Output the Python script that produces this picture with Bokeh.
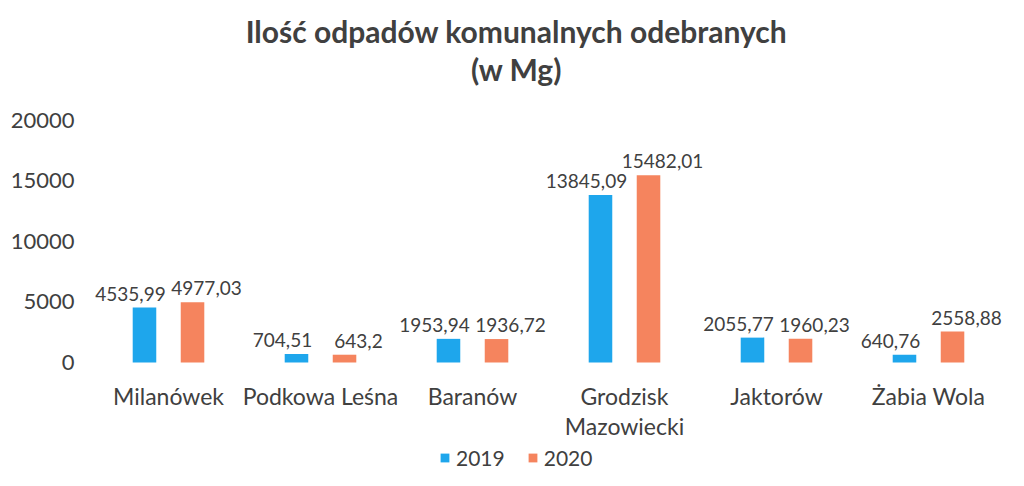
from bokeh.plotting import figure
from bokeh.models import ColumnDataSource, FactorRange, Range1d, Legend, LegendItem, LabelSet, Label
from bokeh.core.properties import value
from bokeh.transform import dodge
from bokeh.embed import file_html
from bokeh.resources import INLINE

municipalities = ["Milanówek", "Podkowa Leśna", "Baranów", "Grodzisk\nMazowiecki", "Jaktorów", "Żabia Wola"]
values_2019 = [4535.99, 704.51, 1953.94, 13845.09, 2055.77, 640.76]
values_2020 = [4977.03, 643.2, 1936.72, 15482.01, 1960.23, 2558.88]
series_names = ["2019", "2020"]
y_ticks = [0, 5000, 10000, 15000, 20000]
title_lines = ["Ilość odpadów komunalnych odebranych", "(w Mg)"]


def pl(v):
    return f"{v:.2f}".rstrip("0").rstrip(".").replace(".", ",")


src = ColumnDataSource(dict(
    cat=municipalities,
    v2019=values_2019,
    v2020=values_2020,
    l2019=[pl(v) for v in values_2019],
    l2020=[pl(v) for v in values_2020],
))

FONT = "Lato"
TXT = "#404040"
BLUE = "#1EA6EC"
ORANGE = "#F5845E"

# frame spans the full height; the value axis occupies 0..20000 in its middle part
p = figure(width=1008, height=470, x_range=FactorRange(factors=municipalities),
           y_range=Range1d(-8926, 29917), output_backend="svg", toolbar_location=None,
           min_border_left=92, min_border_right=4, min_border_top=0, min_border_bottom=0)
p.outline_line_color = None
p.xgrid.grid_line_color = None
p.ygrid.grid_line_color = None
p.title.visible = False
p.xaxis.visible = False

OFF = 0.158
W = 0.155
r1 = p.vbar(x=dodge("cat", -OFF, range=p.x_range), top="v2019", width=W, source=src,
            fill_color=BLUE, line_color=None)
r2 = p.vbar(x=dodge("cat", OFF, range=p.x_range), top="v2020", width=W, source=src,
            fill_color=ORANGE, line_color=None)

for col, ycol, off, xo in [("l2019", "v2019", -OFF, -14), ("l2020", "v2020", OFF, 14)]:
    ls = LabelSet(x=dodge("cat", off, range=p.x_range), y=ycol, text=col, source=src,
                  x_offset=xo, y_offset=7, text_align="center", text_baseline="bottom",
                  text_font=value(FONT), text_font_size="19px", text_color=TXT)
    p.add_layout(ls)

# category labels under the bars
p.text(x="cat", y=0, text="cat", source=src, y_offset=20, text_align="center",
       text_baseline="top", text_font=value(FONT), text_font_size="23px",
       text_color=TXT, text_line_height=1.05)

# title (two centred lines)
for txt, yy in zip(title_lines, [440, 402]):
    p.add_layout(Label(x=424, y=yy, x_units="screen", y_units="screen", text=txt,
                       text_align="center", text_baseline="middle", text_font=FONT,
                       text_font_size="30px", text_font_style="bold", text_color=TXT))

p.yaxis.ticker = y_ticks
p.yaxis.axis_line_color = None
p.yaxis.major_tick_line_color = None
p.yaxis.minor_tick_line_color = None
p.yaxis.major_label_text_font = FONT
p.yaxis.major_label_text_font_size = "22px"
p.yaxis.major_label_text_color = TXT
p.yaxis.major_label_standoff = 12

legend = Legend(items=[LegendItem(label=series_names[0], renderers=[r1]),
                       LegendItem(label=series_names[1], renderers=[r2])],
                orientation="horizontal", location=(347, 0), padding=2, margin=0,
                label_text_font=FONT, label_text_font_size="21px", label_text_color=TXT,
                glyph_width=11, glyph_height=11, label_standoff=6, spacing=22,
                border_line_color=None, background_fill_alpha=0)
p.add_layout(legend)

open("out.html", "w").write(file_html(p, INLINE))
